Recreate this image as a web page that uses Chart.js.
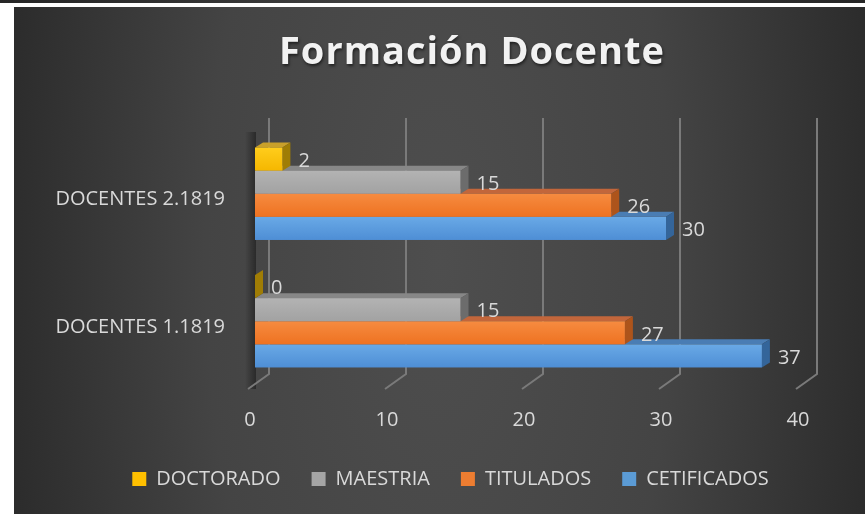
<!DOCTYPE html>
<html>
<head>
<meta charset="utf-8">
<title>Formación Docente</title>
<script src="https://cdn.jsdelivr.net/npm/chart.js@4.4.0/dist/chart.umd.min.js"></script>
<style>
  html, body { margin: 0; padding: 0; background: #ffffff; }
  #topBand { position: absolute; left: 0; top: 0; width: 865px; height: 3px; background: linear-gradient(to right, #262626, #444444 50%, #262626); }
  #chartBox { position: absolute; left: 14px; top: 7px; width: 851px; height: 507px; }
</style>
</head>
<body>
<div id="topBand"></div>
<div id="chartBox"><canvas id="formacionChart" width="851" height="507"></canvas></div>
<script>
const chartTitle = 'Formación Docente';
const categories = ['DOCENTES 2.1819', 'DOCENTES 1.1819'];
const seriesNames = ['DOCTORADO', 'MAESTRIA', 'TITULADOS', 'CETIFICADOS'];
const doctorado = [2, 0];
const maestria = [15, 15];
const titulados = [26, 27];
const cetificados = [30, 37];
const xTicks = [0, 10, 20, 30, 40];

// legend colours and the three faces of each 3D bar
const legendColors = ['#ffc000', '#a5a5a5', '#ed7d31', '#5b9bd5'];
const faces = [
  { front: ['#ffcd1c', '#f5b700'], top: '#c9a02a', side: '#a07d05' },
  { front: ['#b3b3b3', '#a2a2a2'], top: '#878787', side: '#6c6c6c' },
  { front: ['#f68b40', '#ee7221'], top: '#c2663b', side: '#ad541b' },
  { front: ['#69a9e6', '#4e8ed5'], top: '#4a7db4', side: '#34659a' },
];

const depthX = 8;
const depthY = 5;
const textColor = '#d9d9d9';

Chart.defaults.font.family = '"Open Sans", sans-serif';

const background = {
  id: 'background',
  beforeDraw(chart) {
    const { ctx, width, height } = chart;
    ctx.save();
    ctx.translate(width / 2, height / 2);
    ctx.scale(1, 2.4);
    const g = ctx.createRadialGradient(0, 0, 0, 0, 0, 520);
    g.addColorStop(0, '#4e4e4e');
    g.addColorStop(0.45, '#444444');
    g.addColorStop(1, '#222222');
    ctx.fillStyle = g;
    ctx.fillRect(-width, -height, width * 2, height * 2);
    ctx.restore();
  },
};

// the legend sits a bit right of the plot centre, as in the original
const legendShift = {
  id: 'legendShift',
  afterLayout(chart) {
    chart.legend.left += 54;
  },
};

const bars3d = {
  id: 'bars3d',
  beforeDatasetsDraw(chart) {
    const { ctx, chartArea } = chart;
    const xScale = chart.scales.x;
    ctx.save();

    // shadow of the side wall
    const sg = ctx.createLinearGradient(chartArea.left - 10, 0, chartArea.left + 1, 0);
    sg.addColorStop(0, 'rgba(0,0,0,0)');
    sg.addColorStop(1, 'rgba(0,0,0,0.4)');
    ctx.fillStyle = sg;
    ctx.fillRect(chartArea.left - 10, chartArea.top + 2, 11, chartArea.bottom - chartArea.top + 2);

    // back wall gridlines and floor lines
    ctx.strokeStyle = '#7a7a7a';
    ctx.lineWidth = 2;
    xTicks.forEach((v) => {
      const front = xScale.getPixelForValue(v);
      const back = front + 14;
      ctx.beginPath();
      ctx.moveTo(back, chartArea.top - 12);
      ctx.lineTo(back, chartArea.bottom - 11);
      ctx.lineTo(front - 7, chartArea.bottom + 4);
      ctx.stroke();
    });

    // bars, lowest series first so upper bars hide the faces below them
    for (let d = chart.data.datasets.length - 1; d >= 0; d--) {
      const meta = chart.getDatasetMeta(d);
      const face = faces[d];
      meta.data.forEach((el) => {
        const x0 = el.base;
        const x1 = el.x;
        const top = el.y - el.height / 2;
        const bot = el.y + el.height / 2;

        ctx.fillStyle = face.top;
        ctx.beginPath();
        ctx.moveTo(x0, top);
        ctx.lineTo(x0 + depthX, top - depthY);
        ctx.lineTo(x1 + depthX, top - depthY);
        ctx.lineTo(x1, top);
        ctx.closePath();
        ctx.fill();

        ctx.fillStyle = face.side;
        ctx.beginPath();
        ctx.moveTo(x1, top);
        ctx.lineTo(x1 + depthX, top - depthY);
        ctx.lineTo(x1 + depthX, bot - depthY);
        ctx.lineTo(x1, bot);
        ctx.closePath();
        ctx.fill();

        const fg = ctx.createLinearGradient(0, top, 0, bot);
        fg.addColorStop(0, face.front[0]);
        fg.addColorStop(1, face.front[1]);
        ctx.fillStyle = fg;
        ctx.fillRect(x0, top, x1 - x0, bot - top);
      });
    }

    // value labels
    ctx.fillStyle = textColor;
    ctx.font = '20px "Open Sans"';
    ctx.textAlign = 'left';
    ctx.textBaseline = 'middle';
    chart.data.datasets.forEach((ds, d) => {
      chart.getDatasetMeta(d).data.forEach((el, j) => {
        ctx.fillText(String(ds.data[j]), el.x + 16, el.y + 2);
      });
    });
    ctx.restore();
    return false;
  },
  afterDraw(chart) {
    const { ctx } = chart;
    ctx.save();
    ctx.font = 'bold 38px "Open Sans"';
    ctx.letterSpacing = '1px';
    ctx.fillStyle = '#f2f2f2';
    ctx.textAlign = 'center';
    ctx.textBaseline = 'middle';
    ctx.shadowColor = 'rgba(0,0,0,0.55)';
    ctx.shadowBlur = 3;
    ctx.shadowOffsetX = 1;
    ctx.shadowOffsetY = 2;
    ctx.fillText(chartTitle, 458, 46);
    ctx.restore();
  },
};

function buildChart() {
  const seriesValues = [doctorado, maestria, titulados, cetificados];
  const formacionChart = new Chart(document.getElementById('formacionChart'), {
    type: 'bar',
    data: {
      labels: categories,
      datasets: seriesNames.map((name, i) => ({
        label: name,
        data: seriesValues[i],
        backgroundColor: legendColors[i],
        borderWidth: 0,
        barPercentage: 1,
        categoryPercentage: 0.725,
      })),
    },
    options: {
      indexAxis: 'y',
      responsive: false,
      animation: false,
      devicePixelRatio: 1,
      layout: {
        padding: { left: 30, right: 62, top: 123, bottom: 15 },
      },
      scales: {
        x: {
          min: 0,
          max: 40,
          afterFit(scale) { scale.height = 53; },
          afterBuildTicks(scale) { scale.ticks = xTicks.map((v) => ({ value: v })); },
          grid: { display: false, drawTicks: false },
          border: { display: false },
          ticks: {
            color: textColor,
            font: { size: 20 },
            padding: 23,
            labelOffset: -5,
          },
        },
        y: {
          afterFit(scale) { scale.width = 211; },
          grid: { display: false, drawTicks: false },
          border: { display: false },
          ticks: {
            color: textColor,
            font: { size: 20 },
            padding: 30,
            labelOffset: 6,
          },
        },
      },
      plugins: {
        title: { display: false },
        tooltip: { enabled: false },
        legend: {
          position: 'bottom',
          labels: {
            color: textColor,
            font: { size: 20 },
            boxWidth: 14,
            boxHeight: 14,
            padding: 31,
          },
        },
      },
    },
    plugins: [background, legendShift, bars3d],
  });
  return formacionChart;
}

document.fonts.load('20px "Open Sans"').then(() => document.fonts.load('bold 38px "Open Sans"')).then(buildChart, buildChart);
</script>
</body>
</html>
